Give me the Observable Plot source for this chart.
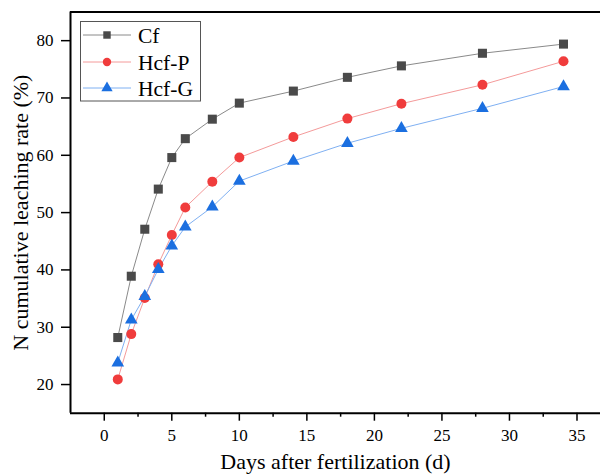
<!DOCTYPE html>
<html><head><meta charset="utf-8">
<script src="https://cdn.jsdelivr.net/npm/d3@7"></script>
<script src="https://cdn.jsdelivr.net/npm/@observablehq/plot@0.6"></script>
<style>
body{margin:0;background:#fff;}
#wrap{position:relative;width:600px;height:475px;overflow:hidden;background:#fff}
#legend{position:absolute;left:0;top:0;pointer-events:none}
#wrap svg text{font-family:'Liberation Serif','Times New Roman',serif;}
</style>
</head><body><div id="wrap"></div>
<script>
// ---- data ----
const days = [1, 2, 3, 4, 5, 6, 8, 10, 14, 18, 22, 28, 34];
const cf   = [28.2, 38.9, 47.1, 54.1, 59.6, 62.9, 66.3, 69.1, 71.2, 73.6, 75.6, 77.8, 79.4];
const hcfP = [20.9, 28.8, 35.1, 41.0, 46.1, 50.9, 55.4, 59.6, 63.2, 66.4, 69.0, 72.3, 76.4];
const hcfG = [23.8, 31.3, 35.4, 40.1, 44.2, 47.5, 51.0, 55.5, 59.0, 62.1, 64.7, 68.2, 72.0];
const seriesNames = ["Cf", "Hcf-P", "Hcf-G"];
const seriesSymbols = ["square", "circle", "triangle"];
const markerColors = ["#4a4a4a", "#f03c3c", "#1b6fe0"];
const lineColors = ["#8a8a8a", "#f49a9a", "#7fb0f2"];
const xTicks = [0, 5, 10, 15, 20, 25, 30, 35];
const xMinorTicks = [2.5, 7.5, 12.5, 17.5, 22.5, 27.5, 32.5];
const yTicks = [20, 30, 40, 50, 60, 70, 80];
const xDomain = [-2.5, 36.74];
const yDomain = [15, 85];
const xTitle = "Days after fertilization (d)";
const yTitle = "N cumulative leaching rate (%)";

const FONT = "'Liberation Serif','Times New Roman',serif";
const seriesValues = [cf, hcfP, hcfG];
const rows = seriesNames.map((s, k) => days.map((d, i) => ({day: d, v: seriesValues[k][i], s})));

const marks = [];
rows.forEach((r, k) => marks.push(Plot.line(r, {x: "day", y: "v", stroke: lineColors[k], strokeWidth: 1})));
const symR = [5.1, 5, 4.7];
rows.forEach((r, k) => marks.push(Plot.dot(r, {x: "day", y: "v", symbol: seriesSymbols[k], r: symR[k], fill: markerColors[k], stroke: "none"})));

marks.push(
  Plot.axisY(yTicks, {tickSize: 9, tickPadding: 8, strokeWidth: 1.5, label: null, fontSize: 17, fontFamily: FONT}),
  Plot.axisX(xTicks, {tickSize: 8, tickPadding: 8, strokeWidth: 1.5, label: null, fontSize: 17, fontFamily: FONT}),
  Plot.axisX(xMinorTicks, {tickSize: 4, tickFormat: () => "", strokeWidth: 1.5, label: null}),
  Plot.ruleX([xDomain[0]], {stroke: "black", strokeWidth: 2}),
  Plot.ruleY(yDomain, {stroke: "black", strokeWidth: 2}),
  Plot.text([xTitle], {frameAnchor: "bottom", dy: 56, lineAnchor: "bottom", fontSize: 22, fontFamily: FONT}),
  Plot.text([yTitle], {frameAnchor: "left", rotate: -90, dx: -43, textAnchor: "middle", lineAnchor: "bottom", fontSize: 22, fontFamily: FONT})
);

const chart = Plot.plot({
  width: 600, height: 475,
  marginLeft: 70, marginRight: 0, marginTop: 11.5, marginBottom: 62.3,
  style: {fontFamily: FONT, fontSize: "17px", color: "black", background: "white", overflow: "visible"},
  x: {domain: xDomain},
  y: {domain: yDomain},
  marks
});
const wrap = document.getElementById("wrap");
wrap.appendChild(chart);

// ---- legend overlay ----
const lg = d3.select(wrap).append("svg").attr("id", "legend").attr("width", 600).attr("height", 475)
  .style("font-family", FONT);
lg.append("rect").attr("x", 80.5).attr("y", 21.5).attr("width", 120).attr("height", 79.5)
  .attr("fill", "white").attr("stroke", "#555").attr("stroke-width", 1);
const rowY = [35, 62, 88];
const symMap = {square: d3.symbolSquare, circle: d3.symbolCircle, triangle: d3.symbolTriangle};
seriesNames.forEach((s, k) => {
  const y = rowY[k];
  lg.append("line").attr("x1", 83).attr("x2", 131).attr("y1", y).attr("y2", y)
    .attr("stroke", lineColors[k]).attr("stroke-width", 1);
  lg.append("path").attr("d", d3.symbol(symMap[seriesSymbols[k]], Math.PI * 4.2 * 4.2)())
    .attr("transform", `translate(107,${y})`).attr("fill", markerColors[k]);
  lg.append("text").attr("x", 138).attr("y", y + 8).attr("font-size", 21.5).text(s);
});
</script>
</body></html>
